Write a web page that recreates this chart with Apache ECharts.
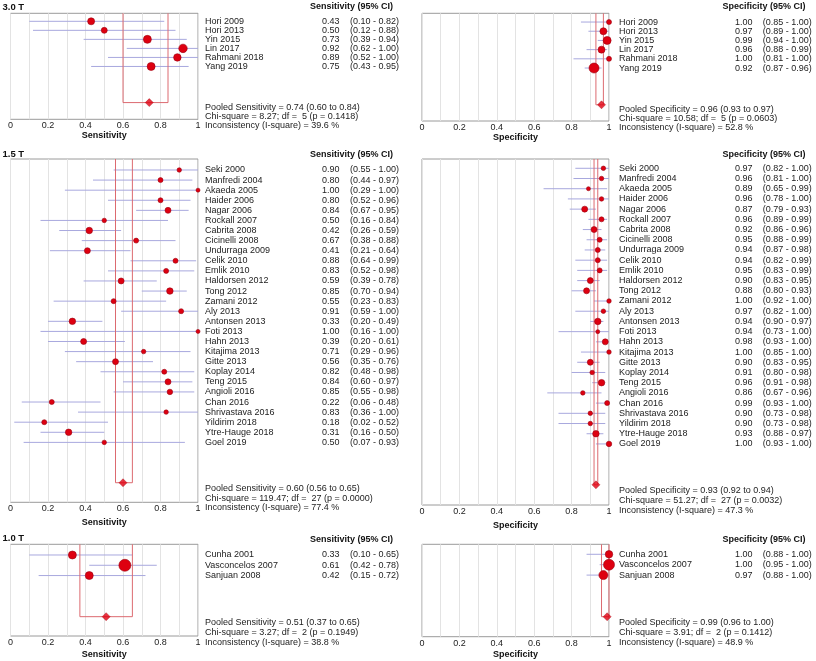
<!DOCTYPE html>
<html>
<head>
<meta charset="utf-8">
<script src="https://cdn.jsdelivr.net/npm/echarts@6/dist/echarts.min.js"></script>
<style>html,body{margin:0;padding:0;background:#fff}#c{width:816px;height:661px}</style>
</head>
<body>
<div id="c"></div>
<script>
// ---------------- DATA ----------------
const names30 = ['Hori 2009','Hori 2013','Yin 2015','Lin 2017','Rahmani 2018','Yang 2019'];
const sens30   = [0.43,0.50,0.73,0.92,0.89,0.75];
const sens30Lo = [0.10,0.12,0.39,0.62,0.52,0.43];
const sens30Hi = [0.82,0.88,0.94,1.00,1.00,0.95];
const sens30W  = [7,6,8,8.5,7.5,8];
const spec30   = [1.00,0.97,0.99,0.96,1.00,0.92];
const spec30Lo = [0.85,0.89,0.94,0.88,0.81,0.87];
const spec30Hi = [1.00,1.00,1.00,0.99,1.00,0.96];
const spec30W  = [5,7,8,7,5,10];

const names15 = ['Seki 2000','Manfredi 2004','Akaeda 2005','Haider 2006','Nagar 2006','Rockall 2007','Cabrita 2008','Cicinelli 2008','Undurraga 2009','Celik 2010','Emlik 2010','Haldorsen 2012','Tong 2012','Zamani 2012','Aly 2013','Antonsen 2013','Foti 2013','Hahn 2013','Kitajima 2013','Gitte 2013','Koplay 2014','Teng 2015','Angioli 2016','Chan 2016','Shrivastava 2016','Yildirim 2018','Ytre-Hauge 2018','Goel 2019'];
const sens15   = [0.90,0.80,1.00,0.80,0.84,0.50,0.42,0.67,0.41,0.88,0.83,0.59,0.85,0.55,0.91,0.33,1.00,0.39,0.71,0.56,0.82,0.84,0.85,0.22,0.83,0.18,0.31,0.50];
const sens15Lo = [0.55,0.44,0.29,0.52,0.67,0.16,0.26,0.38,0.21,0.64,0.52,0.39,0.70,0.23,0.59,0.20,0.16,0.20,0.29,0.35,0.48,0.60,0.55,0.06,0.36,0.02,0.16,0.07];
const sens15Hi = [1.00,0.97,1.00,0.96,0.95,0.84,0.59,0.88,0.64,0.99,0.98,0.78,0.94,0.83,1.00,0.49,1.00,0.61,0.96,0.76,0.98,0.97,0.98,0.48,1.00,0.52,0.50,0.93];
const sens15W  = [4.5,5,4,5,6,4.5,6.5,5,6,5,5,6,6.5,5,5,6.5,4,6,4.5,6,5,6,5.5,5,4.5,5,6.5,4.5];
const spec15   = [0.97,0.96,0.89,0.96,0.87,0.96,0.92,0.95,0.94,0.94,0.95,0.90,0.88,1.00,0.97,0.94,0.94,0.98,1.00,0.90,0.91,0.96,0.86,0.99,0.90,0.90,0.93,1.00];
const spec15Lo = [0.82,0.81,0.65,0.78,0.79,0.89,0.86,0.88,0.87,0.82,0.83,0.83,0.80,0.92,0.82,0.90,0.73,0.93,0.85,0.83,0.80,0.91,0.67,0.93,0.73,0.73,0.88,0.93];
const spec15Hi = [1.00,1.00,0.99,1.00,0.93,0.99,0.96,0.99,0.98,0.99,0.99,0.95,0.93,1.00,1.00,0.97,1.00,1.00,1.00,0.95,0.98,0.98,0.96,1.00,0.98,0.98,0.97,1.00];
const spec15W  = [4.5,4.5,4,4.5,6,5,6,5,5,5,5,6,6,4.5,4.5,6.5,4,6,4.5,6,4.5,6.5,4.5,5,4.5,4.5,6.5,5.5];

const names10 = ['Cunha 2001','Vasconcelos 2007','Sanjuan 2008'];
const sens10   = [0.33,0.61,0.42];
const sens10Lo = [0.10,0.42,0.15];
const sens10Hi = [0.65,0.78,0.72];
const sens10W  = [8,12,8];
const spec10   = [1.00,1.00,0.97];
const spec10Lo = [0.88,0.95,0.88];
const spec10Hi = [1.00,1.00,1.00];
const spec10W  = [7.5,11,9];

// pooled: [estimate, lo, hi, chi, df, p, I2]
const pooledSens30 = [0.74,0.60,0.84,'8.27','5','0.1418','39.6'];
const pooledSpec30 = [0.96,0.93,0.97,'10.58','5','0.0603','52.8'];
const pooledSens15 = [0.60,0.56,0.65,'119.47','27','0.0000','77.4'];
const pooledSpec15 = [0.93,0.92,0.94,'51.27','27','0.0032','47.3'];
const pooledSens10 = [0.51,0.37,0.65,'3.27','2','0.1949','38.8'];
const pooledSpec10 = [0.99,0.96,1.00,'3.91','2','0.1412','48.9'];

const groupTitles = ['3.0 T','1.5 T','1.0 T'];

// ---------------- PANELS ----------------
const panels = [
  {names:names30, est:sens30, lo:sens30Lo, hi:sens30Hi, w:sens30W, pooled:pooledSens30, label:'Sensitivity'},
  {names:names30, est:spec30, lo:spec30Lo, hi:spec30Hi, w:spec30W, pooled:pooledSpec30, label:'Specificity'},
  {names:names15, est:sens15, lo:sens15Lo, hi:sens15Hi, w:sens15W, pooled:pooledSens15, label:'Sensitivity'},
  {names:names15, est:spec15, lo:spec15Lo, hi:spec15Hi, w:spec15W, pooled:pooledSpec15, label:'Specificity'},
  {names:names10, est:sens10, lo:sens10Lo, hi:sens10Hi, w:sens10W, pooled:pooledSens10, label:'Sensitivity'},
  {names:names10, est:spec10, lo:spec10Lo, hi:spec10Hi, w:spec10W, pooled:pooledSpec10, label:'Specificity'}
];
const layout = [
  {left:10.5, top:13.3, width:187.5, height:106,   yMin:-0.886, yMax:10.85, gap:10, off:[7,124,152]},
  {left:422,  top:13.3, width:187,   height:107.7, yMin:-0.95,  yMax:10.76, gap:10, off:[10,126,153.7]},
  {left:10.5, top:159,  width:187.5, height:343.3, yMin:-1.09,  yMax:32.94, gap:8,  off:[7,124,152]},
  {left:422,  top:159,  width:187,   height:346,   yMin:-0.91,  yMax:32.98, gap:9,  off:[10,126,153.7]},
  {left:10.5, top:544.3,width:187.5, height:91.7,  yMin:-1.04,  yMax:7.88,  gap:14, off:[7,124,152]},
  {left:422,  top:544.3,width:187,   height:92.4,  yMin:-0.96,  yMax:7.92,  gap:13, off:[10,126,153.7]}
];

const FF = 'Liberation Sans, Arial, sans-serif';
const TXT = '#1c1c1c';
const option = {animation:false, grid:[], xAxis:[], yAxis:[], series:[], graphic:[]};

panels.forEach((p, k) => {
  const L = layout[k];
  const n = p.names.length;
  const py = n + 3;
  option.grid.push({left:L.left, top:L.top, width:L.width, height:L.height, show:true,
    borderColor:'#9a9a9a', borderWidth:1, backgroundColor:'transparent'});
  option.xAxis.push({gridIndex:k, type:'value', min:0, max:1, interval:0.1,
    axisLine:{show:false}, axisTick:{show:false},
    splitLine:{show:true, lineStyle:{color:'#e3e3e3', width:1}},
    axisLabel:{margin:2, fontSize:9, color:'#222', fontFamily:FF,
      formatter: v => (Math.round(v*10) % 2 === 0 ? String(+(+v).toFixed(1)) : '')},
    name:p.label, nameLocation:'middle', nameGap:L.gap,
    nameTextStyle:{fontWeight:'bold', fontSize:9, color:'#111', fontFamily:FF}});
  option.yAxis.push({gridIndex:k, type:'value', inverse:true, min:L.yMin, max:L.yMax, show:false});

  // CI lines
  option.series.push({type:'custom', xAxisIndex:k, yAxisIndex:k, clip:false,
    encode:{x:[0,2], y:1},
    data:p.est.map((v,i) => [p.lo[i], i, p.hi[i]]),
    renderItem:(params, api) => {
      const a = api.coord([api.value(0), api.value(1)]);
      const b = api.coord([api.value(2), api.value(1)]);
      return {type:'line', shape:{x1:a[0], y1:a[1], x2:b[0], y2:b[1]},
        style:{stroke:'#a8a8de', lineWidth:1}};
    }});
  // pooled CI box
  option.series.push({type:'custom', xAxisIndex:k, yAxisIndex:k, clip:false,
    encode:{x:[0,2], y:1},
    data:[[p.pooled[1], py, p.pooled[2]]],
    renderItem:(params, api) => {
      const t1 = api.coord([api.value(0), L.yMin]);
      const b1 = api.coord([api.value(0), api.value(1)]);
      const b2 = api.coord([api.value(2), api.value(1)]);
      const t2 = api.coord([api.value(2), L.yMin]);
      return {type:'polyline', shape:{points:[t1,b1,b2,t2]},
        style:{stroke:'#dc6a70', lineWidth:1, fill:null}};
    }});
  // study points
  option.series.push({type:'scatter', xAxisIndex:k, yAxisIndex:k, clip:false,
    data:p.est.map((v,i) => [v, i, p.w[i]]),
    symbol:'circle', symbolSize: d => d[2],
    itemStyle:{color:'#de0010', borderColor:'#9a0010', borderWidth:0.6, opacity:1},
    z:4});
  // pooled diamond
  option.series.push({type:'scatter', xAxisIndex:k, yAxisIndex:k, clip:false,
    data:[[p.pooled[0], py]], symbol:'diamond', symbolSize:[8,8],
    itemStyle:{color:'#e00010', borderColor:'#a00010', borderWidth:0.5}, z:4});
  // study texts
  option.series.push({type:'custom', xAxisIndex:k, yAxisIndex:k, clip:false,
    encode:{x:0, y:1},
    data:p.names.map((nm,i) => [1, i]),
    renderItem:(params, api) => {
      const i = params.dataIndex;
      const c = api.coord([1, api.value(1)]);
      const st = (t, dx) => ({type:'text', x:c[0]+dx, y:c[1],
        style:{text:t, fill:TXT, fontSize:9, fontFamily:FF, verticalAlign:'middle', align:'left'}});
      return {type:'group', children:[
        st(p.names[i], L.off[0]),
        st(p.est[i].toFixed(2), L.off[1]),
        st('(' + p.lo[i].toFixed(2) + ' - ' + p.hi[i].toFixed(2) + ')', L.off[2])
      ]};
    }, z:5});
  // pooled stats texts
  option.series.push({type:'custom', xAxisIndex:k, yAxisIndex:k, clip:false,
    encode:{x:0, y:1},
    data:[[1, py]],
    renderItem:(params, api) => {
      const q = p.pooled;
      const lines = [
        'Pooled ' + p.label + ' = ' + q[0].toFixed(2) + ' (' + q[1].toFixed(2) + ' to ' + q[2].toFixed(2) + ')',
        'Chi-square = ' + q[3] + '; df =  ' + q[4] + ' (p = ' + q[5] + ')',
        'Inconsistency (I-square) = ' + q[6] + ' %'
      ];
      const offs = [0.55, 1.52, 2.5];
      return {type:'group', children: lines.map((t, j) => {
        const c = api.coord([1, api.value(1) + offs[j]]);
        return {type:'text', x:c[0]+L.off[0], y:c[1],
          style:{text:t, fill:TXT, fontSize:9, fontFamily:FF, verticalAlign:'middle', align:'left'}};
      })};
    }, z:5});
});

// headers and group titles
const hdrY = [7, 154.5, 539.5];
const titleY = [7, 154, 538];
groupTitles.forEach((t, g) => {
  option.graphic.push({type:'text', x:2.5, y:titleY[g],
    style:{text:t, fill:'#111', fontSize:9.5, fontWeight:'bold', fontFamily:FF, verticalAlign:'middle', align:'left'}});
  option.graphic.push({type:'text', x:393, y:hdrY[g],
    style:{text:'Sensitivity (95% CI)', fill:'#111', fontSize:9, fontWeight:'bold', fontFamily:FF, verticalAlign:'middle', align:'right'}});
  option.graphic.push({type:'text', x:805.5, y:hdrY[g],
    style:{text:'Specificity (95% CI)', fill:'#111', fontSize:9, fontWeight:'bold', fontFamily:FF, verticalAlign:'middle', align:'right'}});
});

const chart = echarts.init(document.getElementById('c'), null, {renderer:'canvas'});
chart.setOption(option);
</script>
</body>
</html>
